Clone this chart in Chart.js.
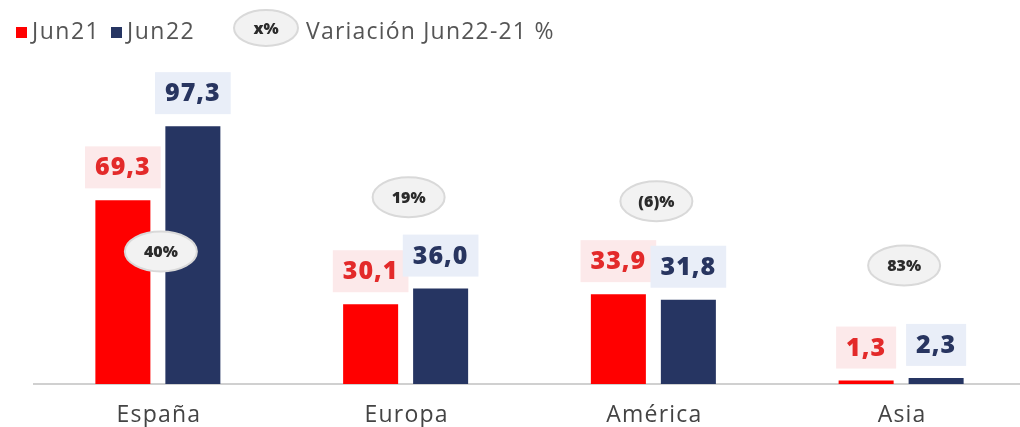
<!DOCTYPE html>
<html>
<head>
<meta charset="utf-8">
<script src="https://cdn.jsdelivr.net/npm/chart.js@4"></script>
<style>
  html, body { margin: 0; padding: 0; background: #fff; overflow: hidden; }
  #wrap { width: 1025px; height: 427px; }
</style>
</head>
<body>
<div id="wrap"><canvas id="grafica" width="1025" height="427"></canvas></div>
<script>
// datos
const regiones = ['España', 'Europa', 'América', 'Asia'];
const jun21 = [69.3, 30.1, 33.9, 1.3];
const jun22 = [97.3, 36.0, 31.8, 2.3];
const variacion = ['40%', '19%', '(6)%', '83%'];
// nivel (en unidades del eje) donde va cada burbuja de variación
const nivelBurbuja = [50, 70.5, 69, 44.7];

const ROJO = '#ff0000';
const AZUL = '#263562';
const FUENTE = '"Open Sans", "DejaVu Sans", sans-serif';

function fmt(v) {
    return v.toFixed(1).replace('.', ',');
}

function burbuja(ctx, cx, cy, w, h, texto) {
    ctx.save();
    ctx.beginPath();
    ctx.ellipse(cx, cy, w / 2, h / 2, 0, 0, Math.PI * 2);
    ctx.fillStyle = '#f2f2f2';
    ctx.fill();
    ctx.lineWidth = 2;
    ctx.strokeStyle = '#d9d9d9';
    ctx.stroke();
    ctx.fillStyle = '#2b2b2b';
    ctx.font = '800 16px ' + FUENTE;
    ctx.textAlign = 'center';
    ctx.textBaseline = 'middle';
    ctx.fillText(texto, cx, cy + 1);
    ctx.restore();
}

const etiquetas = {
    id: 'etiquetas',
    afterDatasetsDraw(chart) {
        const ctx = chart.ctx;
        const colores = [
            { texto: '#e32a2a', fondo: '#fce9ea' },
            { texto: '#283560', fondo: '#e9eef8' }
        ];
        chart.data.datasets.forEach((ds, i) => {
            const meta = chart.getDatasetMeta(i);
            meta.data.forEach((bar, j) => {
                const txt = fmt(ds.data[j]);
                ctx.save();
                ctx.font = '800 25px ' + FUENTE;
                ctx.letterSpacing = '1px';
                const w = ctx.measureText(txt).width + 20;
                const h = 42;
                const x = bar.x - w / 2;
                const y = bar.y - 12 - h;
                ctx.fillStyle = colores[i].fondo;
                ctx.fillRect(x, y, w, h);
                ctx.fillStyle = colores[i].texto;
                ctx.textAlign = 'center';
                ctx.textBaseline = 'middle';
                ctx.fillText(txt, bar.x, y + h / 2 + 1);
                ctx.restore();
            });
        });
        // burbujas de variación
        const xs = chart.scales.x, ys = chart.scales.y;
        variacion.forEach((v, j) => {
            burbuja(ctx, xs.getPixelForValue(j) + 3, ys.getPixelForValue(nivelBurbuja[j]), 72, 40, v);
        });
    },
    afterDraw(chart) {
        const ctx = chart.ctx;
        const xs = chart.scales.x;
        // etiquetas del eje x
        ctx.save();
        ctx.font = '23px ' + FUENTE;
        ctx.letterSpacing = '1.2px';
        ctx.fillStyle = '#444';
        ctx.textAlign = 'center';
        ctx.textBaseline = 'middle';
        regiones.forEach((r, j) => {
            ctx.fillText(r, xs.getPixelForValue(j) + 1, 415);
        });
        ctx.restore();
        // leyenda
        ctx.save();
        ctx.font = '23px ' + FUENTE;
        ctx.letterSpacing = '1.5px';
        ctx.textBaseline = 'middle';
        ctx.fillStyle = ROJO;
        ctx.fillRect(16, 27, 11, 11);
        ctx.fillStyle = '#555';
        ctx.fillText('Jun21', 32, 32);
        ctx.fillStyle = AZUL;
        ctx.fillRect(111, 27, 11, 11);
        ctx.fillStyle = '#555';
        ctx.fillText('Jun22', 127, 32);
        ctx.restore();
        burbuja(ctx, 266, 28, 64, 36, 'x%');
        ctx.save();
        ctx.font = '23px ' + FUENTE;
        ctx.letterSpacing = '1.2px';
        ctx.textBaseline = 'middle';
        ctx.fillStyle = '#555';
        ctx.fillText('Variación Jun22-21 %', 306, 32);
        ctx.restore();
    }
};

const ctx = document.getElementById('grafica').getContext('2d');

new Chart(ctx, {
    type: 'bar',
    data: {
        labels: regiones,
        datasets: [{
            label: 'Jun21',
            data: jun21,
            backgroundColor: ROJO,
            categoryPercentage: 0.565,
            barPercentage: 0.786
        }, {
            label: 'Jun22',
            data: jun22,
            backgroundColor: AZUL,
            categoryPercentage: 0.565,
            barPercentage: 0.786
        }]
    },
    options: {
        responsive: false,
        animation: false,
        layout: { padding: { left: 34, right: 0, top: 66, bottom: 43 } },
        plugins: {
            legend: { display: false },
            tooltip: { enabled: false }
        },
        scales: {
            x: {
                grid: { display: false, drawTicks: false },
                border: { color: '#d0d0d0', width: 2 },
                ticks: { display: false }
            },
            y: {
                display: false,
                min: 0,
                max: 120
            }
        }
    },
    plugins: [etiquetas]
});
</script>
</body>
</html>
